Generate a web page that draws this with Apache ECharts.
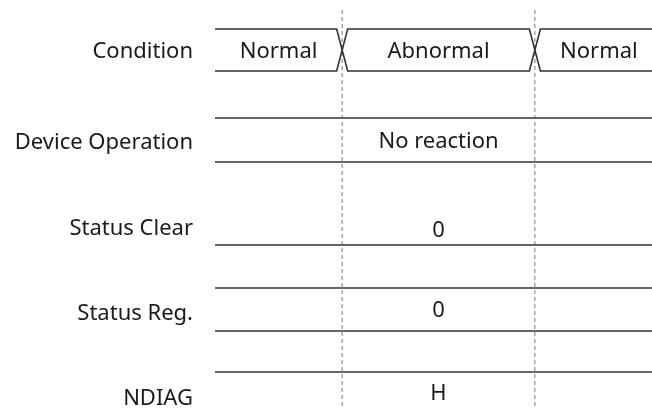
<!DOCTYPE html>
<html><head><meta charset="utf-8">
<script src="https://cdn.jsdelivr.net/npm/echarts@6/dist/echarts.min.js"></script>
<style>html,body{margin:0;padding:0;background:#fff}#c{width:652px;height:409px}</style>
</head><body><div id="c"></div>
<script>
// ---------- data ----------
const signals = ['Condition', 'Device Operation', 'Status Clear', 'Status Reg.', 'NDIAG'];
const transitions = [29.1, 73.2];          // moments the condition changes
const timeEnd = 102.5;                     // last state continues past the visible window
const viewEnd = 100;
const conditionStates = ['Normal', 'Abnormal', 'Normal'];
const deviceOperation = ['', 'No reaction', ''];
const statusClear = ['', '0', ''];
const statusReg = ['', '0', ''];
const ndiag = ['', 'H', ''];

// ---------- layout / style ----------
const FONT = '"Noto Sans", sans-serif';
const FS = 22;
const LINE = '#333333';
const LW = 1.6;
const XHALF = 5.5; // half width of bus crossing (px)
const TDY = 1.5;   // text vertical nudge (px)
const laneLayout = [
  { labelY: 50,  textY: 50,  top: 29,  bot: 71,  bus: true },
  { labelY: 141, textY: 140, top: 118, bot: 162 },
  { labelY: 227, textY: 229, top: null, bot: 245 },
  { labelY: 312, textY: 309, top: 288, bot: 331 },
  { labelY: 397, textY: 392, top: 372, bot: null }
];
const laneValues = [conditionStates, deviceOperation, statusClear, statusReg, ndiag];

const bounds = [0].concat(transitions, [timeEnd]);
const segData = [];
laneValues.forEach((vals, lane) => {
  vals.forEach((v, i) => segData.push([bounds[i], bounds[i + 1], lane, i, v]));
});

const chart = echarts.init(document.getElementById('c'), null, { renderer: 'canvas' });
chart.setOption({
  animation: false,
  backgroundColor: '#ffffff',
  grid: { left: 215, right: 0, top: 0, bottom: 0 },
  xAxis: { type: 'value', min: 0, max: viewEnd, show: false },
  yAxis: { type: 'value', min: 0, max: 409, inverse: true, show: false },
  series: [
    { // dashed transition markers
      type: 'custom', silent: true, z: 1,
      data: transitions.map(t => [t]),
      renderItem: (params, api) => {
        const p0 = api.coord([api.value(0), 10]);
        const p1 = api.coord([api.value(0), 409]);
        return { type: 'line', shape: { x1: p0[0], y1: p0[1], x2: p1[0], y2: p1[1] },
          style: { stroke: '#7a7a7a', lineWidth: 1, lineDash: [4, 3] } };
      }
    },
    { // signal waveforms
      type: 'custom', silent: true, z: 2, clip: false,
      data: segData,
      renderItem: (params, api) => {
        const s = api.value(0), e = api.value(1), lane = api.value(2), idx = api.value(3);
        const text = segData[params.dataIndex][4];
        const L = laneLayout[lane];
        const xs = api.coord([s, 0])[0], xe = api.coord([e, 0])[0];
        const yT = L.top != null ? api.coord([s, L.top])[1] : null;
        const yB = L.bot != null ? api.coord([s, L.bot])[1] : null;
        const children = [];
        if (L.bus) {
          const yM = (yT + yB) / 2;
          const startT = idx > 0, endT = e < timeEnd;
          const top = [], bot = [];
          if (startT) { top.push([xs, yM], [xs + XHALF, yT]); bot.push([xs, yM], [xs + XHALF, yB]); }
          else { top.push([xs, yT]); bot.push([xs, yB]); }
          if (endT) { top.push([xe - XHALF, yT], [xe, yM]); bot.push([xe - XHALF, yB], [xe, yM]); }
          else { top.push([xe, yT]); bot.push([xe, yB]); }
          children.push({ type: 'polyline', shape: { points: top }, style: { stroke: LINE, lineWidth: LW, fill: null } });
          children.push({ type: 'polyline', shape: { points: bot }, style: { stroke: LINE, lineWidth: LW, fill: null } });
        } else {
          if (yT != null) children.push({ type: 'line', shape: { x1: xs, y1: yT, x2: xe, y2: yT }, style: { stroke: LINE, lineWidth: LW } });
          if (yB != null) children.push({ type: 'line', shape: { x1: xs, y1: yB, x2: xe, y2: yB }, style: { stroke: LINE, lineWidth: LW } });
        }
        if (text) {
          const yText = api.coord([s, L.textY])[1] + TDY;
          children.push({ type: 'text', style: { x: (xs + xe) / 2, y: yText, text: text,
            font: FS + 'px ' + FONT, fill: '#1a1a1a', align: 'center', verticalAlign: 'middle' } });
        }
        return { type: 'group', children };
      }
    },
    { // signal names
      type: 'custom', silent: true, z: 3, clip: false,
      data: signals.map((n, i) => [0, i]),
      renderItem: (params, api) => {
        const lane = api.value(1);
        const p = api.coord([0, laneLayout[lane].labelY]);
        return { type: 'text', style: { x: p[0] - 22, y: p[1] + TDY, text: signals[lane],
          font: FS + 'px ' + FONT, fill: '#1a1a1a', align: 'right', verticalAlign: 'middle' } };
      }
    }
  ]
});
</script>
</body></html>
